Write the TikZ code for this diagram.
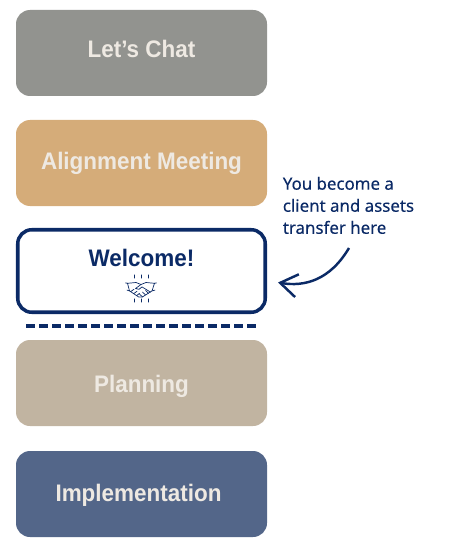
\documentclass[tikz,border=0pt]{standalone}
\usepackage{fontspec}
\setmainfont{Liberation Sans}
\newfontfamily\stagefont[FakeStretch=0.94]{Liberation Sans}
\newfontfamily\notefont[FakeBold=0.25]{Noto Sans}
\usepackage{xcolor}
\usetikzlibrary{arrows.meta,positioning,calc}
\definecolor{ChatGray}{HTML}{92938F}
\definecolor{AlignTan}{HTML}{D5AC79}
\definecolor{PlanBeige}{HTML}{C1B4A1}
\definecolor{ImplBlue}{HTML}{536689}
\definecolor{DeepNavy}{HTML}{0B2A66}
\definecolor{SoftCream}{HTML}{EEE9E2}

\begin{document}
\begin{tikzpicture}[
    stage/.style={draw=none, minimum width=5.02cm, minimum height=1.72cm, rounded corners=0.28cm, align=center, text=SoftCream, text depth=0pt, font=\stagefont\fontsize{13.6}{16}\selectfont\bfseries},
    welcomebox/.style={stage, draw=DeepNavy, line width=2pt, fill=white, text=DeepNavy, minimum width=4.95cm, minimum height=1.65cm},
    arr/.style={-{Straight Barb[length=3.4mm,width=4.6mm]}, draw=DeepNavy, line width=1.4pt},
    icon/.style={draw=DeepNavy, line width=0.4pt, line cap=round, line join=round}
  ]
    \useasboundingbox (0, 0) rectangle (9.08, -11);

    \node[stage, fill=ChatGray, text height=5.2pt] (chat) at (2.83, -1.06) {Let’s Chat};
    \node[stage, fill=AlignTan, text height=7pt] (align) at (2.83, -3.26) {Alignment Meeting};
    \node[welcomebox] (welcome) at (2.83, -5.42) {};
    \node[text=DeepNavy, font=\stagefont\fontsize{13.6}{16}\selectfont\bfseries] (welcometxt) at (2.83, -5.16) {Welcome!};
    \node[stage, fill=PlanBeige, text height=10.9pt] (plan) at (2.83, -7.66) {Planning};
    \node[stage, fill=ImplBlue, text height=8.7pt] (impl) at (2.83, -9.88) {\hspace*{-3.4pt}Implementation};

    \node[anchor=north west, inner sep=0pt, align=left, text=DeepNavy, font=\notefont\fontsize{9.6}{12.55}\selectfont] (note) at (5.65, -3.53) {You become a\\client and assets\\transfer here};

    % divider under the welcome box
    \coordinate (dashl) at (0.52, -6.52);
    \coordinate (dashr) at (5.12, -6.52);
    \draw[DeepNavy, line width=2pt, dash pattern=on 0.175cm off 0.085cm] (dashl) -- (dashr);

    % curved pointer
    \coordinate (tail) at (6.98, -4.96);
    \coordinate (tip) at (5.56, -5.65);
    \draw[arr] (tail) .. controls (6.6, -5.6) and (6.1, -5.74) .. (tip);

    % handshake
    \begin{scope}[shift={(2.82, -5.77)}, yscale=0.8]
      \draw[icon] (-0.27, 0.13) -- (-0.10, 0.15) -- (0, 0.10) -- (0.10, 0.15) -- (0.27, 0.13);
      \draw[icon] (-0.27, 0.13) -- (-0.23, -0.06) -- (-0.05, -0.21) -- (0.03, -0.21) -- (0.22, -0.06) -- (0.27, 0.13);
      \draw[icon] (0, 0.10) -- (-0.11, 0) -- (-0.04, -0.02) -- (0.02, 0.04) -- (0.19, -0.09);
      \draw[icon] (-0.21, -0.08) -- (-0.14, -0.02) (-0.15, -0.13) -- (-0.08, -0.07) (-0.09, -0.18) -- (-0.03, -0.12);
      \draw[icon] (0.03, -0.21) -- (-0.03, -0.14) (0.09, -0.16) -- (0.03, -0.09) (0.15, -0.12) -- (0.09, -0.05);
      \draw[icon] (-0.31, 0.14) -- (-0.27, 0.13) (0.31, 0.14) -- (0.27, 0.13) (-0.28, -0.04) -- (-0.23, -0.06) (0.28, -0.04) -- (0.22, -0.06);
      \foreach \x in {-0.14, 0, 0.14} {
        \draw[icon] (\x, 0.26) -- (\x, 0.34);
        \draw[icon] (\x, -0.26) -- (\x, -0.34);
      }
    \end{scope}
  \end{tikzpicture}
\end{document}
